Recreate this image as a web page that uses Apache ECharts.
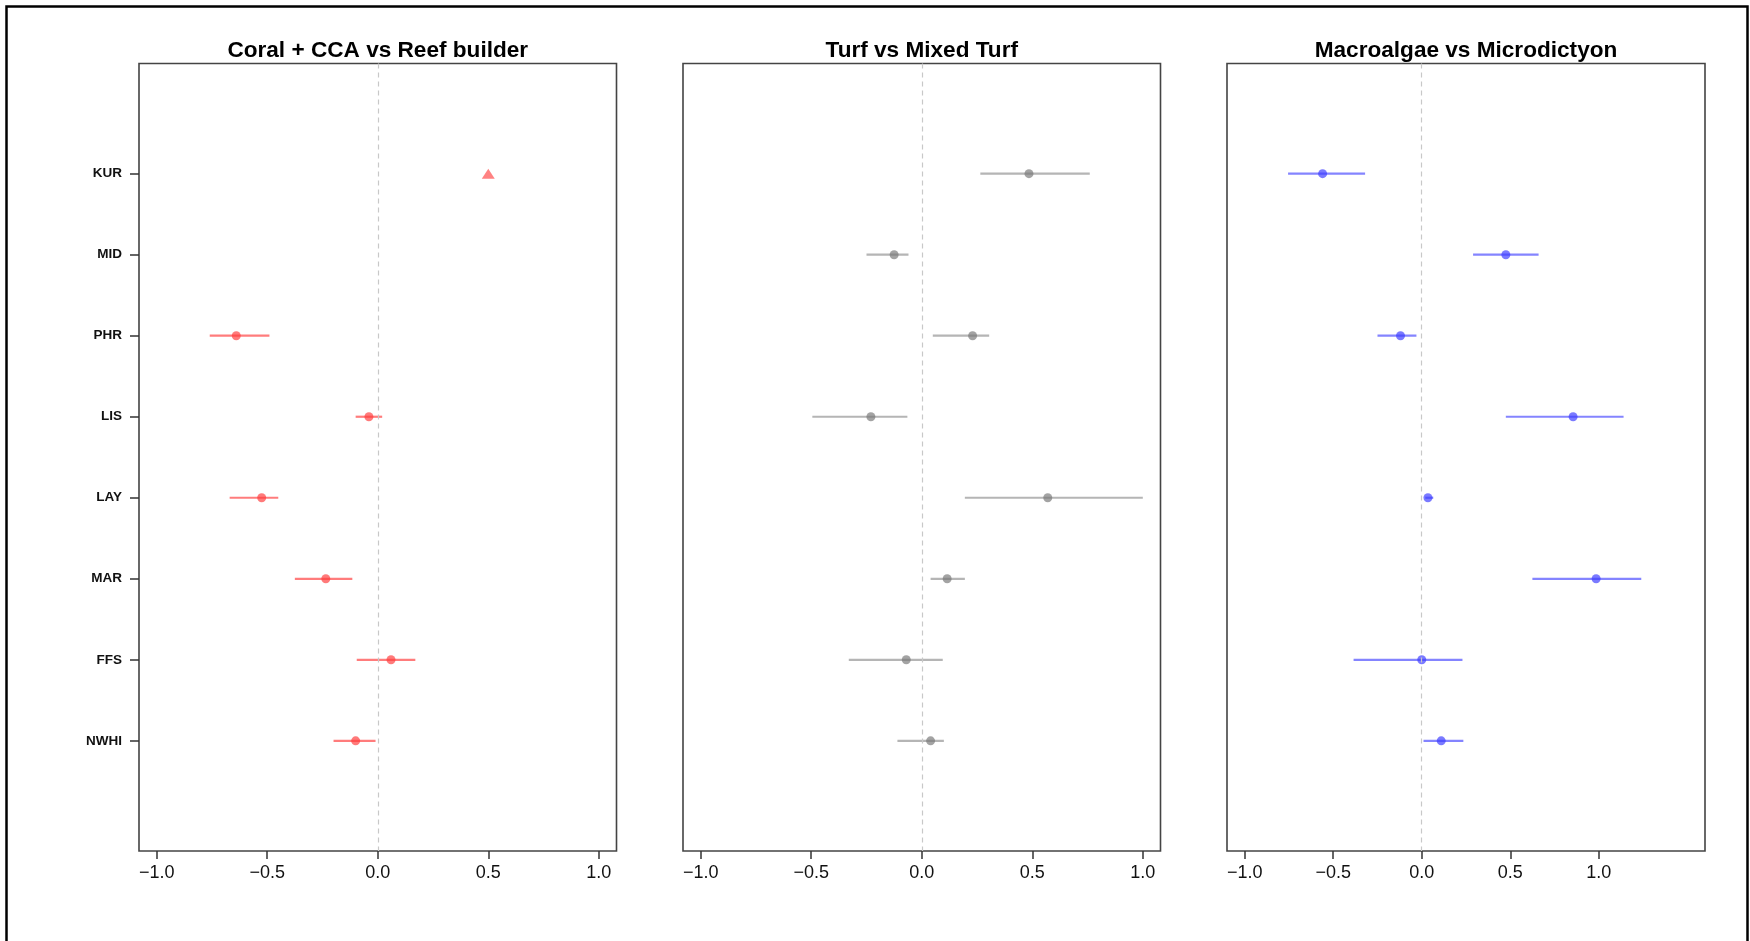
<!DOCTYPE html>
<html>
<head>
<meta charset="utf-8">
<script src="https://cdn.jsdelivr.net/npm/echarts@6/dist/echarts.min.js"></script>
<style>
html,body{margin:0;padding:0;background:#fff;}
#chart{width:1750px;height:941px;}
</style>
</head>
<body>
<div id="chart"></div>
<script>
// ---- data ----
const sites = ['KUR','MID','PHR','LIS','LAY','MAR','FFS','NWHI'];
const xTicks = [-1, -0.5, 0, 0.5, 1];
const panelTitles = ['Coral + CCA vs Reef builder', 'Turf vs Mixed Turf', 'Macroalgae vs Microdictyon'];

// Coral + CCA vs Reef builder
const coralEst = [null, null, -0.64, -0.04, -0.525, -0.235, 0.06, -0.10];
const coralLo  = [null, null, -0.76, -0.10, -0.67, -0.375, -0.095, -0.20];
const coralHi  = [null, null, -0.49, 0.02, -0.45, -0.115, 0.17, -0.01];
const coralTriangle = [0.5, null, null, null, null, null, null, null];

// Turf vs Mixed Turf
const turfEst = [0.485, -0.125, 0.23, -0.23, 0.57, 0.115, -0.07, 0.04];
const turfLo  = [0.265, -0.25, 0.05, -0.495, 0.195, 0.04, -0.33, -0.11];
const turfHi  = [0.76, -0.06, 0.305, -0.065, 1.0, 0.195, 0.095, 0.10];

// Macroalgae vs Microdictyon
const macroEst = [-0.56, 0.475, -0.12, 0.855, 0.035, 0.985, 0.0, 0.11];
const macroLo  = [-0.755, 0.29, -0.25, 0.475, 0.02, 0.625, -0.385, 0.01];
const macroHi  = [-0.32, 0.66, -0.03, 1.14, 0.065, 1.24, 0.23, 0.235];

// ---- layout / style ----
const FONT = '"Liberation Sans", Arial, Helvetica, sans-serif';
const panels = [
  {left: 139, width: 477.5, xmin: -1.08, xmax: 1.08, est: coralEst, lo: coralLo, hi: coralHi, tri: coralTriangle,
   pointColor: 'rgba(255,60,60,0.85)', barColor: 'rgba(255,80,80,0.75)'},
  {left: 683, width: 477.5, xmin: -1.08, xmax: 1.08, est: turfEst, lo: turfLo, hi: turfHi, tri: null,
   pointColor: 'rgba(120,120,120,0.85)', barColor: 'rgba(150,150,150,0.7)'},
  {left: 1227, width: 478, xmin: -1.1, xmax: 1.6, est: macroEst, lo: macroLo, hi: macroHi, tri: null,
   pointColor: 'rgba(60,60,255,0.85)', barColor: 'rgba(80,80,255,0.7)'}
];
const gridTop = 63.5, gridHeight = 787.5;

const grids = [], xAxes = [], yAxes = [], series = [], graphics = [];
panels.forEach((p, k) => {
  grids.push({left: p.left, top: gridTop, width: p.width, height: gridHeight,
    show: true, borderColor: '#444', borderWidth: 1.6, backgroundColor: '#fff', containLabel: false});
  graphics.push({type: 'text', silent: true, z: 100,
    x: p.left + p.width / 2, y: 51,
    style: {text: panelTitles[k], fill: '#000', font: 'bold 22.6px ' + FONT,
      align: 'center', verticalAlign: 'middle'}});
  xAxes.push({type: 'value', gridIndex: k, min: p.xmin, max: p.xmax, position: 'bottom',
    axisLine: {show: false, onZero: false}, splitLine: {show: false},
    axisTick: {show: true, length: 8, customValues: xTicks, lineStyle: {color: '#333', width: 1.5}},
    axisLabel: {show: true, customValues: xTicks, margin: 13, color: '#111',
      fontFamily: FONT, fontSize: 18,
      formatter: v => (v < 0 ? '\u2212' : '') + Math.abs(v).toFixed(1)}});
  yAxes.push({type: 'value', gridIndex: k, min: -0.36, max: 9.36, inverse: true, position: 'left',
    axisLine: {show: false, onZero: false}, splitLine: {show: false},
    axisTick: {show: k === 0, length: 9, customValues: [1,2,3,4,5,6,7,8], lineStyle: {color: '#333', width: 1.5}},
    axisLabel: {show: k === 0, customValues: [1,2,3,4,5,6,7,8], margin: 17, color: '#111',
      fontFamily: FONT, fontSize: 13.5, fontWeight: 'bold',
      formatter: v => sites[Math.round(v) - 1] || ''}});

  const barData = [];
  const ptData = [];
  sites.forEach((s, i) => {
    if (p.lo[i] != null && p.hi[i] != null) barData.push([p.lo[i], p.hi[i], i + 1]);
    if (p.est[i] != null) ptData.push([p.est[i], i + 1]);
  });
  // error bars
  series.push({type: 'custom', xAxisIndex: k, yAxisIndex: k, silent: true, z: 3,
    data: barData,
    encode: {x: [0, 1], y: 2},
    renderItem: (params, api) => {
      const a = api.coord([api.value(0), api.value(2)]);
      const b = api.coord([api.value(1), api.value(2)]);
      return {type: 'line', shape: {x1: a[0], y1: a[1], x2: b[0], y2: b[1]},
        style: {stroke: p.barColor, lineWidth: 2.2}};
    }});
  // points + zero reference line
  series.push({type: 'scatter', xAxisIndex: k, yAxisIndex: k, silent: true, z: 4,
    symbol: 'circle', symbolSize: 9, data: ptData,
    itemStyle: {color: p.pointColor},
    markLine: {silent: true, symbol: ['none', 'none'], label: {show: false},
      lineStyle: {color: '#c8c8c8', type: [5, 4], width: 1.2},
      data: [{xAxis: 0}]}});
  if (p.tri) {
    const triData = [];
    p.tri.forEach((v, i) => { if (v != null) triData.push([v, i + 1]); });
    series.push({type: 'scatter', xAxisIndex: k, yAxisIndex: k, silent: true, z: 4,
      symbol: 'triangle', symbolSize: [13, 10], data: triData,
      itemStyle: {color: 'rgba(255,60,60,0.8)'}});
  }
});

graphics.push({type: 'rect', silent: true, z: 100,
  shape: {x: 6.5, y: 6.5, width: 1741, height: 960},
  style: {fill: 'none', stroke: '#000', lineWidth: 2.5}});

const chart = echarts.init(document.getElementById('chart'), null, {renderer: 'canvas'});
chart.setOption({
  animation: false,
  backgroundColor: '#fff',
  grid: grids,
  xAxis: xAxes,
  yAxis: yAxes,
  series: series,
  graphic: graphics
});
</script>
</body>
</html>
